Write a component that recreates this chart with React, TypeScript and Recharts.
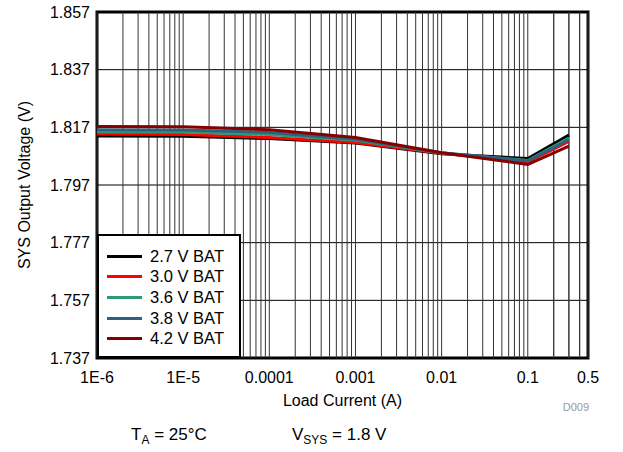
import {
  LineChart,
  Line,
  XAxis,
  YAxis,
  CartesianGrid,
  ReferenceLine,
  ReferenceArea,
  Legend,
} from "recharts";

const FONT = "'Liberation Sans', Arial, Helvetica, sans-serif";

// load current (A)
const loadCurrent = [1e-6, 1e-5, 1e-4, 1e-3, 1e-2, 1e-1, 0.3];

// SYS output voltage (V) per battery voltage
const bat27 = [1.814, 1.8139, 1.8131, 1.8116, 1.8078, 1.8062, 1.8143];
const bat30 = [1.8147, 1.8145, 1.8135, 1.8117, 1.808, 1.805, 1.8121];
const bat36 = [1.8155, 1.8154, 1.8145, 1.8125, 1.8081, 1.8055, 1.8133];
const bat38 = [1.8162, 1.8161, 1.8152, 1.8129, 1.8082, 1.8053, 1.8127];
const bat42 = [1.8173, 1.8172, 1.8162, 1.8135, 1.8082, 1.8041, 1.8105];

const xTicks = [1e-6, 1e-5, 1e-4, 1e-3, 1e-2, 1e-1, 0.5];
const xTickLabels = ["1E-6", "1E-5", "0.0001", "0.001", "0.01", "0.1", "0.5"];
const yTicks = [1.737, 1.757, 1.777, 1.797, 1.817, 1.837, 1.857];

const series = [
  { key: "bat27", name: "2.7 V BAT", color: "#000000", values: bat27 },
  { key: "bat30", name: "3.0 V BAT", color: "#ff0000", values: bat30 },
  { key: "bat36", name: "3.6 V BAT", color: "#2e9a70", values: bat36 },
  { key: "bat38", name: "3.8 V BAT", color: "#2f6080", values: bat38 },
  { key: "bat42", name: "4.2 V BAT", color: "#850000", values: bat42 },
];

const data = loadCurrent.map((x, i) => {
  const row: Record<string, number> = { x };
  series.forEach((s) => (row[s.key] = s.values[i]));
  return row;
});

// log grid lines (1..9 per decade)
const minorGrid: number[] = [];
for (let e = -6; e <= -1; e++) {
  for (let k = 1; k <= 9; k++) minorGrid.push(k * Math.pow(10, e));
}
minorGrid.push(0.2, 0.3, 0.4);

function LegendBox() {
  return (
    <div
      style={{
        width: 144,
        height: 124,
        boxSizing: "border-box",
        border: "2.5px solid #000",
        background: "#fff",
        padding: "10px 0 0 8px",
        fontFamily: FONT,
        fontSize: 16.5,
      }}
    >
      {series.map((s) => (
        <div
          key={s.key}
          style={{ display: "flex", alignItems: "center", height: 20.6 }}
        >
          <span
            style={{
              width: 35,
              height: 3,
              background: s.color,
              marginRight: 8,
            }}
          />
          <span style={{ color: "#000" }}>{s.name}</span>
        </div>
      ))}
    </div>
  );
}

export default function App() {
  return (
    <div
      style={{
        position: "fixed",
        left: 0,
        top: 0,
        width: 623,
        height: 452,
        background: "#fff",
        fontFamily: FONT,
      }}
    >
      <LineChart
        width={623}
        height={452}
        data={data}
        margin={{ top: 12, right: 35, bottom: 0, left: 7 }}
      >
        <CartesianGrid vertical={false} stroke="#000" strokeOpacity={1} />
        {minorGrid.map((v) => (
          <ReferenceLine key={v} x={v} stroke="#333" strokeWidth={1} />
        ))}
        <XAxis
          dataKey="x"
          type="number"
          scale="log"
          domain={[1e-6, 0.5]}
          ticks={xTicks}
          tickFormatter={(v: number) => xTickLabels[xTicks.indexOf(v)] ?? ""}
          tickLine={false}
          axisLine={false}
          allowDataOverflow
          interval={0}
          tick={{ fontSize: 16, fill: "#000", fontFamily: FONT }}
          tickMargin={8}
          height={94}
          label={{
            value: "Load Current (A)",
            position: "insideTop",
            offset: 37,
            fontSize: 16,
            fill: "#000",
            fontFamily: FONT,
          }}
        />
        <YAxis
          type="number"
          domain={[1.737, 1.857]}
          ticks={yTicks}
          tickFormatter={(v: number) => v.toFixed(3)}
          tickLine={false}
          axisLine={false}
          allowDataOverflow
          interval={0}
          width={90}
          tickMargin={1}
          tick={{ fontSize: 16, fill: "#000", fontFamily: FONT }}
          label={{
            value: "SYS Output Voltage (V)",
            angle: -90,
            position: "insideLeft",
            offset: 17,
            fontSize: 16,
            fill: "#000",
            fontFamily: FONT,
            style: { textAnchor: "middle" },
          }}
        />
        {series.map((s) => (
          <Line
            key={s.key}
            dataKey={s.key}
            name={s.name}
            stroke={s.color}
            strokeWidth={3}
            dot={false}
            isAnimationActive={false}
          />
        ))}
        <ReferenceArea
          x1={1e-6}
          x2={0.5}
          y1={1.737}
          y2={1.857}
          fill="none"
          stroke="#000"
          strokeWidth={3}
        />
        <Legend
          layout="horizontal"
          verticalAlign="middle"
          align="center"
          content={() => <LegendBox />}
          wrapperStyle={{ left: 97, top: 234, width: 144, height: 124 }}
        />
      </LineChart>
      <div
        style={{
          position: "absolute",
          right: 34,
          top: 401,
          fontSize: 11,
          color: "#999",
        }}
      >
        D009
      </div>
      <div
        style={{
          position: "absolute",
          left: 131,
          top: 425,
          fontSize: 17,
          color: "#000",
          whiteSpace: "nowrap",
        }}
      >
        T<sub style={{ fontSize: 12, verticalAlign: -4 }}>A</sub> = 25°C
      </div>
      <div
        style={{
          position: "absolute",
          left: 292,
          top: 425,
          fontSize: 17,
          color: "#000",
          whiteSpace: "nowrap",
        }}
      >
        V<sub style={{ fontSize: 12, verticalAlign: -4 }}>SYS</sub> = 1.8 V
      </div>
    </div>
  );
}
